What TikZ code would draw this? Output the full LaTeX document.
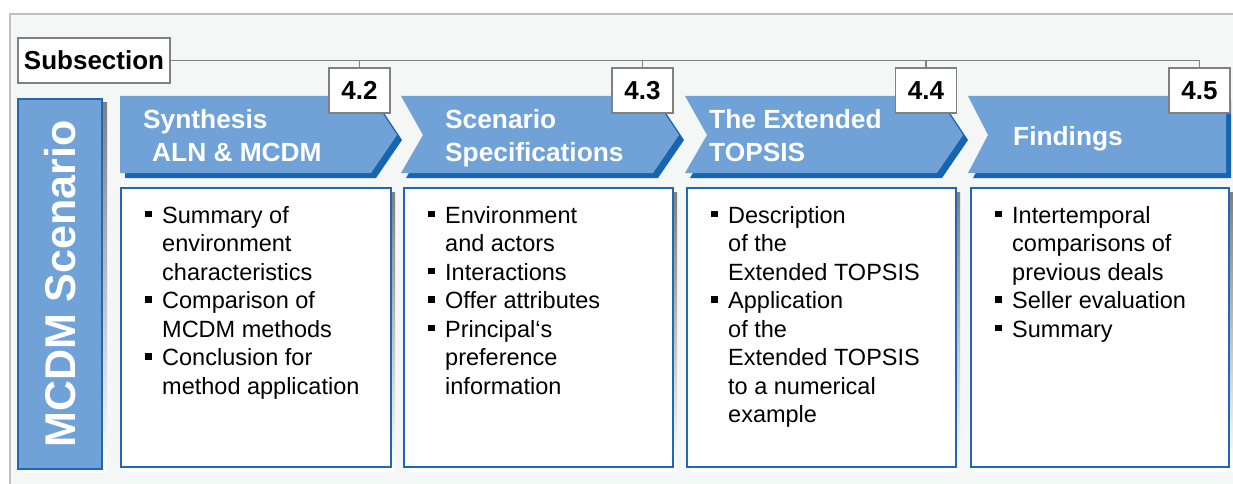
\documentclass[tikz,border=0pt]{standalone}
\usepackage{fontspec}
\setmainfont{Liberation Sans}
\definecolor{chevfill}{HTML}{70A2D7}
\definecolor{chevdark}{HTML}{1565B0}
\definecolor{boxline}{HTML}{1F69B4}
\definecolor{panel}{HTML}{F5F6F6}
\definecolor{frame}{HTML}{C0C0C0}
\definecolor{shade}{HTML}{D6D6D6}
\definecolor{tick}{HTML}{808080}
\newcommand{\sq}{\rule[6pt]{6.5pt}{6.5pt}}
\tikzset{
  numbox/.style={draw=tick, line width=1.5pt, fill=white, minimum width=61pt, minimum height=45pt, inner sep=0pt, font=\fontsize{26}{30}\selectfont\bfseries},
  chevtitle/.style={anchor=base west, inner sep=0pt, align=left, text=white, font=\fontsize{26.3}{32.5}\selectfont\bfseries},
  itemlist/.style={anchor=base west, inner sep=0pt, font=\fontsize{23.5}{28.5}\selectfont},
  listbox/.style={draw=boxline, line width=2pt, fill=white},
}
\begin{document}
\begin{tikzpicture}[x=1pt, y=-1pt]
\useasboundingbox (0,0) rectangle (1233,484);
\clip (0,0) rectangle (1233,484);
\fill[panel] (10,14) rectangle (1250,500);
\draw[frame, line width=1.2pt] (1250,14) -- (10,14) -- (10,500);

% vertical label
\fill[shade] (23,103) rectangle (107,472);
\node[draw=boxline, line width=2pt, fill=chevfill, rotate=90, minimum width=369pt, minimum height=84pt, text=white, font=\fontsize{43}{46}\selectfont\bfseries] (scen) at (60,284) {MCDM Scenario};

% chevrons
\fill[chevdark] (125,101) -- (376,101) -- (402,140) -- (376,178) -- (125,178) -- cycle;
\fill[chevfill] (120,96) -- (371,96) -- (397,135) -- (371,173) -- (120,173) -- cycle;
\fill[chevdark] (406,101) -- (658,101) -- (684,140) -- (658,178) -- (406,178) -- (428,140) -- cycle;
\fill[chevfill] (401,96) -- (653,96) -- (679,135) -- (653,173) -- (401,173) -- (423,135) -- cycle;
\fill[chevdark] (690,101) -- (942,101) -- (968,140) -- (942,178) -- (690,178) -- (712,140) -- cycle;
\fill[chevfill] (685,96) -- (937,96) -- (963,135) -- (937,173) -- (685,173) -- (707,135) -- cycle;
\fill[chevdark] (973,101) -- (1231,101) -- (1231,178) -- (973,178) -- (993,140) -- cycle;
\fill[chevfill] (968,96) -- (1226,96) -- (1226,173) -- (968,173) -- (988,135) -- cycle;

\node[chevtitle] (t1) at (143,161) {Synthesis\\\hspace*{9pt}ALN \& MCDM};
\node[chevtitle] (t2) at (445,161) {Scenario\\Specifications};
\node[chevtitle] (t3) at (709,161) {The Extended\\TOPSIS};
\node[chevtitle] (t4) at (1013,145) {Findings};

% subsection numbers
\node[numbox, minimum width=152pt] (sub) at (94,60.5) {Subsection};
\node[numbox] (n42) at (359.5,90.5) {4.2};
\node[numbox] (n43) at (642.5,90.5) {4.3};
\node[numbox] (n44) at (926,90.5) {4.4};
\node[numbox] (n45) at (1199.5,90.5) {4.5};
\draw[tick, line width=1.2pt] (sub.east) -| (n45.north);
\foreach \n in {n42,n43,n44}
  \draw[tick, line width=1.2pt] (\n.north) -- (\n.north |- sub.east);

% content boxes
\fill[shade] (125,192) rectangle (395,471);
\fill[shade] (408,192) rectangle (677,471);
\fill[shade] (691,192) rectangle (960,471);
\fill[shade] (975,192) rectangle (1233,471);
\draw[listbox] (121,188) rectangle (391,467);
\draw[listbox] (404,188) rectangle (673,467);
\draw[listbox] (687,188) rectangle (956,467);
\draw[listbox] (971,188) rectangle (1229,467);

\node[itemlist] (l1) at (145,223) {\begin{tabular}[t]{@{}l@{\hspace{10.5pt}}l@{}}
\sq & Summary of\\ & environment\\ & characteristics\\
\sq & Comparison of\\ & MCDM methods\\
\sq & Conclusion for\\ & method application\end{tabular}};
\node[itemlist] (l2) at (428,223) {\begin{tabular}[t]{@{}l@{\hspace{10.5pt}}l@{}}
\sq & Environment\\ & and actors\\
\sq & Interactions\\
\sq & Offer attributes\\
\sq & Principal‘s\\ & preference\\ & information\end{tabular}};
\node[itemlist] (l3) at (711,223) {\begin{tabular}[t]{@{}l@{\hspace{10.5pt}}l@{}}
\sq & Description\\ & of the\\ & Extended TOPSIS\\
\sq & Application\\ & of the\\ & Extended TOPSIS\\ & to a numerical\\ & example\end{tabular}};
\node[itemlist] (l4) at (995,223) {\begin{tabular}[t]{@{}l@{\hspace{10.5pt}}l@{}}
\sq & Intertemporal\\ & comparisons of\\ & previous deals\\
\sq & Seller evaluation\\
\sq & Summary\end{tabular}};
\end{tikzpicture}
\end{document}
